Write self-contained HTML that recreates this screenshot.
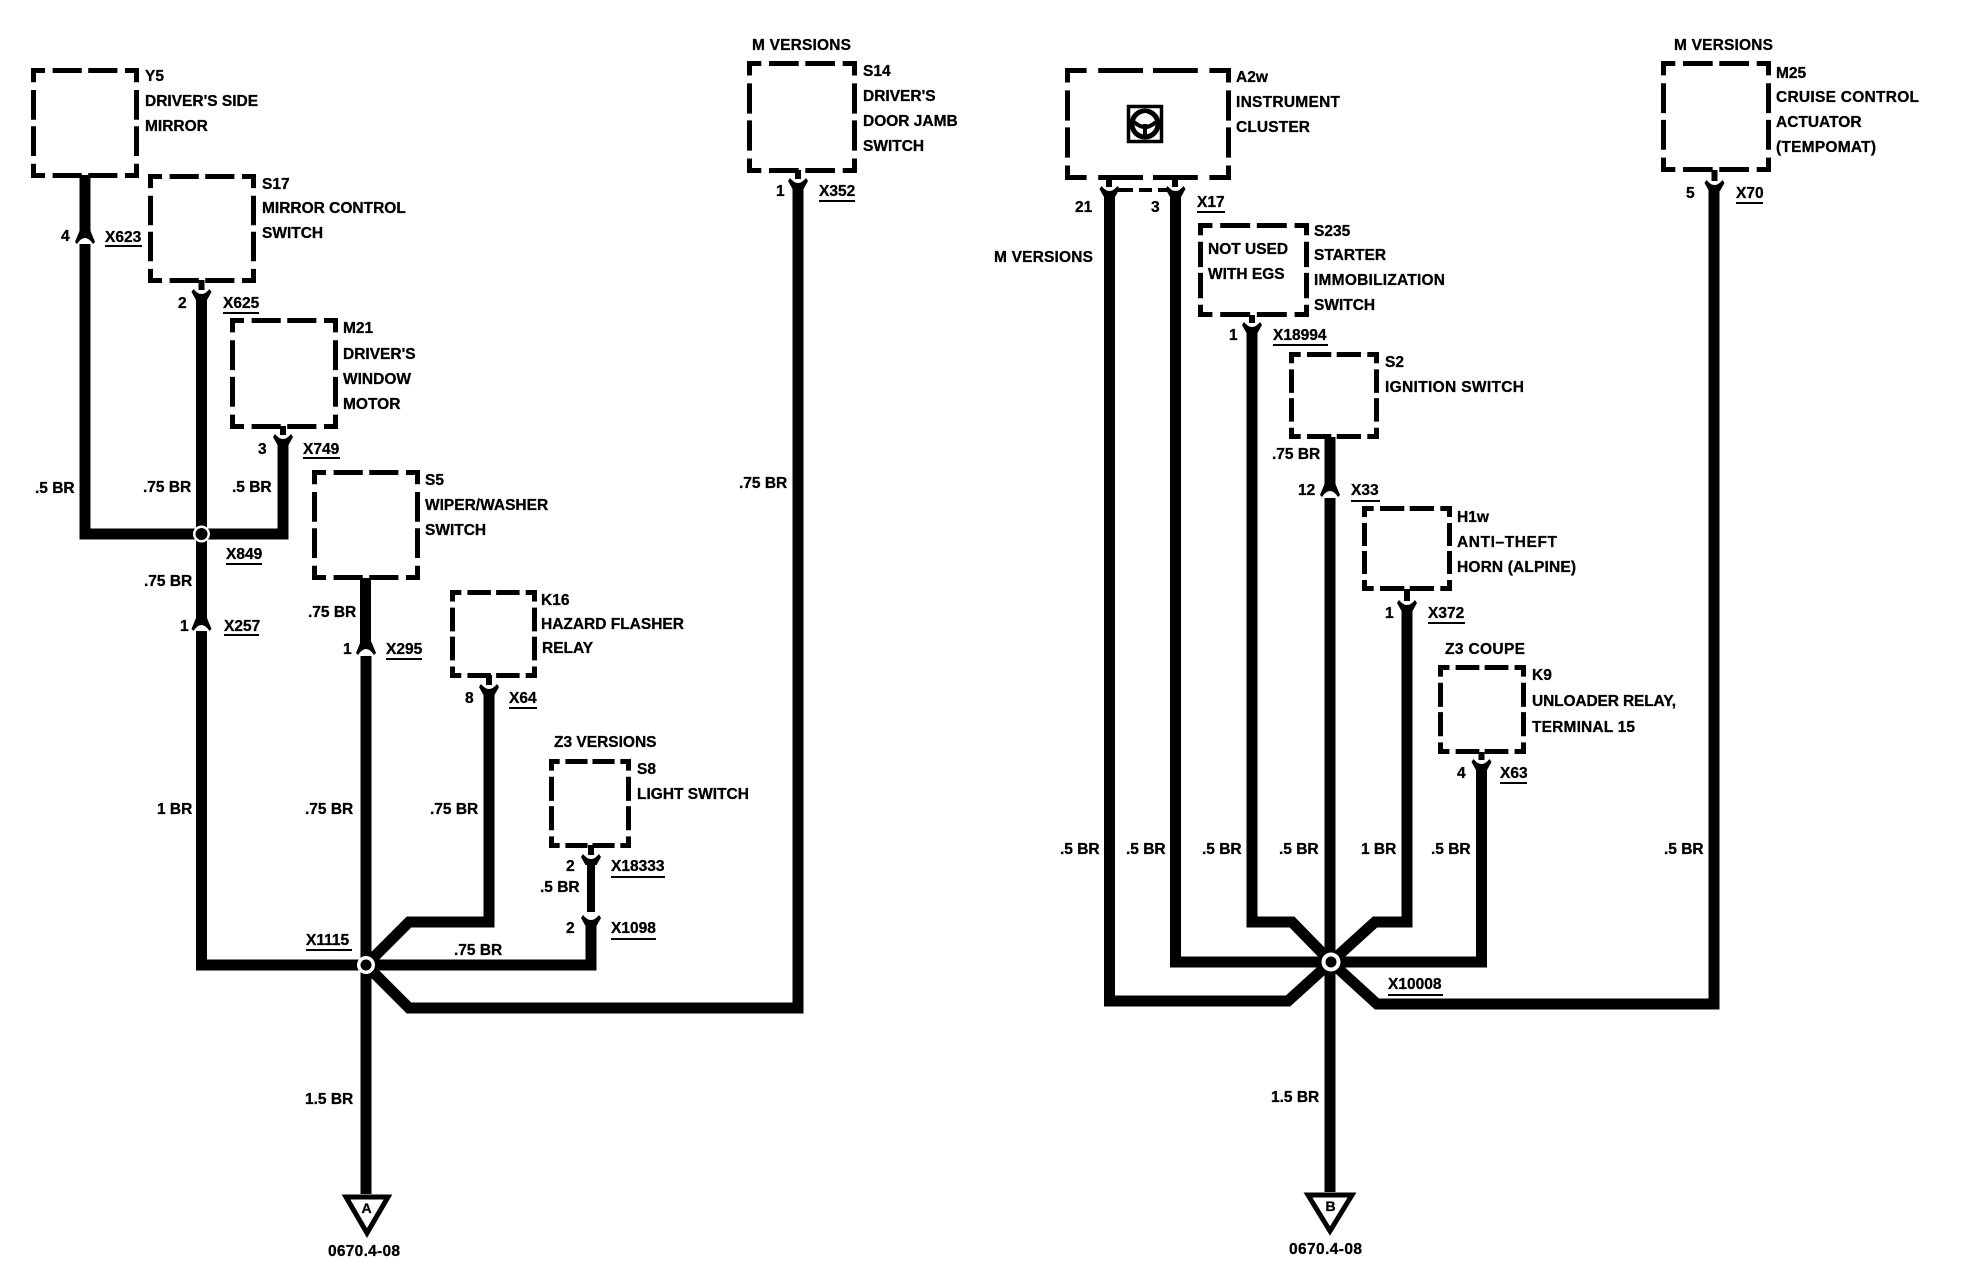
<!DOCTYPE html>
<html><head><meta charset="utf-8"><style>
html,body{margin:0;padding:0;background:#fff}
svg{display:block}
text{font-family:"Liberation Sans",sans-serif;font-weight:bold;font-size:15.5px;fill:#000;stroke:#000;stroke-width:.3}
.w{fill:none;stroke:#000;stroke-width:11;stroke-linejoin:miter;stroke-linecap:butt}
.s{fill:none;stroke:#000;stroke-width:6}
.u{stroke:#000;stroke-width:2;fill:none}
.h,.v{fill:none;stroke:#000;stroke-width:5;stroke-dasharray:13 7 27 6 27 7 13 100}
</style></head><body>
<svg width="1964" height="1280" viewBox="0 0 1964 1280" xmlns="http://www.w3.org/2000/svg">
<defs>
<path id="Y" d="M-8 -2Q0 8 8 -2L10 1L5.500 9H-5.500L-10 1Z"/>
<path id="I" d="M-5.500 -9H5.500L10 2L8 4Q0 -8 -8 4L-10 2Z"/>
</defs>

<!-- boxes -->
<g>
<path class="h" pathLength="200" d="M31 70.5H139M31 175.5H139"/><path class="v" pathLength="200" d="M33.5 68V178M136.5 68V178"/>
<path class="h" pathLength="200" d="M148 176.5H256M148 280.5H256"/><path class="v" pathLength="200" d="M150.5 174V283M253.5 174V283"/>
<path class="h" pathLength="200" d="M230 320.5H338M230 426.5H338"/><path class="v" pathLength="200" d="M232.5 318V429M335.5 318V429"/>
<path class="h" pathLength="200" d="M312 472.5H420M312 577.5H420"/><path class="v" pathLength="200" d="M314.5 470V580M417.5 470V580"/>
<path class="h" pathLength="200" d="M450 592.5H537M450 675.5H537"/><path class="v" pathLength="200" d="M452.5 590V678M534.5 590V678"/>
<path class="h" pathLength="200" d="M549 761.5H631M549 845.5H631"/><path class="v" pathLength="200" d="M551.5 759V848M628.5 759V848"/>
<path class="h" pathLength="200" d="M747 63.5H857M747 170.5H857"/><path class="v" pathLength="200" d="M749.5 61V173M854.5 61V173"/>
<path class="h" pathLength="200" d="M1065 70.5H1231M1065 177.5H1231"/><path class="v" pathLength="200" d="M1067.5 68V180M1228.5 68V180"/>
<path class="h" pathLength="200" d="M1661 63.5H1771M1661 169.5H1771"/><path class="v" pathLength="200" d="M1663.5 61V172M1768.5 61V172"/>
<path class="h" pathLength="200" d="M1198 225.5H1309M1198 314.5H1309"/><path class="v" pathLength="200" d="M1200.5 223V317M1306.5 223V317"/>
<path class="h" pathLength="200" d="M1289 354.5H1379M1289 436.5H1379"/><path class="v" pathLength="200" d="M1291.5 352V439M1376.5 352V439"/>
<path class="h" pathLength="200" d="M1362 508.5H1452M1362 588.5H1452"/><path class="v" pathLength="200" d="M1364.5 506V591M1449.5 506V591"/>
<path class="h" pathLength="200" d="M1438 667.5H1526M1438 751.5H1526"/><path class="v" pathLength="200" d="M1440.5 665V754M1523.5 665V754"/>
</g>

<!-- stems -->
<path class="s" d="M201.5 280V290M283 426V435M489 675V685M591 845V855M798 170V179M1109 178V187M1175 178V187M1252 315V323M1407 589V601M1481.5 752V760M1714.5 170V181"/>
<path d="M1118 190H1133M1139 190H1152M1158 190H1168" stroke="#000" stroke-width="4" fill="none"/>

<!-- left wires -->
<path class="w" d="M85 175V234M85 244V534H283V442"/>
<path class="w" d="M201.5 298V620M201.5 631V965H366"/>
<path class="w" d="M365.5 578V645M366 656V1194"/>
<path class="w" d="M489 694V922H409L366 965"/>
<path class="w" d="M366 965H591V924"/>
<path class="w" d="M366 965L409 1008H798V187"/>
<path d="M591 862V912" stroke="#000" stroke-width="8" fill="none"/>

<!-- right wires -->
<path class="w" d="M1109.500 194V1001H1288L1331 962"/>
<path class="w" d="M1175.500 194V962H1481.5V767"/>
<path class="w" d="M1252 330V922H1292L1331 962"/>
<path class="w" d="M1330 437V487M1330 498V1192"/>
<path class="w" d="M1407 608V922H1375L1331 962"/>
<path class="w" d="M1331 962L1377 1004H1714V188"/>

<!-- connectors -->
<use href="#Y" x="201.5" y="291"/><use href="#Y" x="283" y="436"/><use href="#Y" x="489" y="686"/>
<use href="#Y" x="591" y="856"/><use href="#Y" x="591" y="917"/><use href="#Y" x="798" y="180"/>
<use href="#Y" x="1109.500" y="188"/><use href="#Y" x="1175.500" y="188"/><use href="#Y" x="1252" y="324"/>
<use href="#Y" x="1407" y="602"/><use href="#Y" x="1481.5" y="761"/><use href="#Y" x="1714.5" y="182"/>
<use href="#I" x="85" y="240"/><use href="#I" x="201.5" y="627"/><use href="#I" x="366" y="651"/><use href="#I" x="1330" y="493"/>

<!-- junctions -->
<circle cx="201.5" cy="534" r="8.5" fill="#fff"/><circle cx="201.5" cy="534" r="6" fill="#000"/>
<circle cx="366" cy="965" r="9" fill="#fff"/><circle cx="366" cy="965" r="5.500" fill="#000"/>
<circle cx="1331" cy="962" r="9.500" fill="#fff"/><circle cx="1331" cy="962" r="5.500" fill="#000"/>

<!-- grounds -->
<path d="M346 1197H388L367 1233Z" fill="#fff" stroke="#000" stroke-width="5"/>
<path d="M1308 1195H1352L1330 1231Z" fill="#fff" stroke="#000" stroke-width="5"/>
<text x="361.5" y="1213" style="font-size:14px">A</text>
<text x="1325.5" y="1211" style="font-size:14px">B</text>

<!-- instrument icon -->
<rect x="1128.5" y="106.5" width="33" height="35" fill="#fff" stroke="#000" stroke-width="3.500"/>
<circle cx="1145" cy="124" r="13" fill="none" stroke="#000" stroke-width="5"/>
<circle cx="1145" cy="119" r="6" fill="#fff"/>
<path d="M1145 124V137M1134 122Q1145 132 1156 122" fill="none" stroke="#000" stroke-width="4"/>

<!-- underlines -->
<path class="u" d="M105 246H142M223 313H259M303 458H340M226 564H262M224 635H259M386 659H422M509 708H537M611 877H665M611 939H656M306 950H352M819 201H855M1197 212H1225M1273 345H1328M1351 501H1380M1428 623H1465M1736 203H1763M1500 783H1527M1388 995H1443"/>

<g transform="translate(0,-1)">
<!-- left labels -->
<text x="145" y="82">Y5</text><text x="145" y="107">DRIVER'S SIDE</text><text x="145" y="132">MIRROR</text>
<text x="262" y="190">S17</text><text x="262" y="214">MIRROR CONTROL</text><text x="262" y="239">SWITCH</text>
<text x="343" y="334">M21</text><text x="343" y="360">DRIVER'S</text><text x="343" y="385">WINDOW</text><text x="343" y="410">MOTOR</text>
<text x="425" y="486">S5</text><text x="425" y="511">WIPER/WASHER</text><text x="425" y="536">SWITCH</text>
<text x="541" y="606">K16</text><text x="541" y="630">HAZARD FLASHER</text><text x="542" y="654">RELAY</text>
<text x="554" y="748">Z3 VERSIONS</text><text x="637" y="775">S8</text><text x="637" y="800">LIGHT SWITCH</text>
<text x="752" y="51" textLength="99">M VERSIONS</text><text x="863" y="77">S14</text><text x="863" y="102">DRIVER'S</text><text x="863" y="127">DOOR JAMB</text><text x="863" y="152">SWITCH</text>
<text x="776" y="197">1</text><text x="819" y="197">X352</text><text x="739" y="489">.75 BR</text>
<text x="61" y="242">4</text><text x="105" y="243">X623</text>
<text x="178" y="309">2</text><text x="223" y="309">X625</text>
<text x="258" y="455">3</text><text x="303" y="455">X749</text>
<text x="35" y="494">.5 BR</text><text x="143" y="493">.75 BR</text><text x="232" y="493">.5 BR</text>
<text x="226" y="560">X849</text><text x="144" y="587">.75 BR</text>
<text x="180" y="632">1</text><text x="224" y="632">X257</text><text x="308" y="618">.75 BR</text>
<text x="343" y="655">1</text><text x="386" y="655">X295</text>
<text x="465" y="704">8</text><text x="509" y="704">X64</text>
<text x="157" y="815">1 BR</text><text x="305" y="815">.75 BR</text><text x="430" y="815">.75 BR</text>
<text x="566" y="872">2</text><text x="611" y="872">X18333</text><text x="540" y="893">.5 BR</text>
<text x="566" y="934">2</text><text x="611" y="934">X1098</text>
<text x="306" y="946">X1115</text><text x="454" y="956">.75 BR</text>
<text x="305" y="1105">1.5 BR</text><text x="328" y="1257" textLength="72">0670.4-08</text>

<!-- right labels -->
<text x="1236" y="83">A2w</text><text x="1236" y="108" textLength="104">INSTRUMENT</text><text x="1236" y="133" textLength="74">CLUSTER</text>
<text x="1075" y="213">21</text><text x="1151" y="213">3</text><text x="1197" y="208">X17</text>
<text x="994" y="263" textLength="99">M VERSIONS</text>
<text x="1208" y="255">NOT USED</text><text x="1208" y="280">WITH EGS</text>
<text x="1314" y="237">S235</text><text x="1314" y="261">STARTER</text><text x="1314" y="286" textLength="131">IMMOBILIZATION</text><text x="1314" y="311">SWITCH</text>
<text x="1229" y="341">1</text><text x="1273" y="341">X18994</text>
<text x="1385" y="368">S2</text><text x="1385" y="393" textLength="139">IGNITION SWITCH</text>
<text x="1272" y="460">.75 BR</text>
<text x="1298" y="496">12</text><text x="1351" y="496">X33</text>
<text x="1457" y="523">H1w</text><text x="1457" y="548" textLength="100">ANTI–THEFT</text><text x="1457" y="573" textLength="119">HORN (ALPINE)</text>
<text x="1385" y="619">1</text><text x="1428" y="619">X372</text>
<text x="1674" y="51" textLength="99">M VERSIONS</text><text x="1776" y="79">M25</text><text x="1776" y="103" textLength="143">CRUISE CONTROL</text><text x="1776" y="128">ACTUATOR</text><text x="1776" y="153" textLength="100">(TEMPOMAT)</text>
<text x="1686" y="199">5</text><text x="1736" y="199">X70</text>
<text x="1445" y="655" textLength="80">Z3 COUPE</text><text x="1532" y="681">K9</text><text x="1532" y="707" textLength="144">UNLOADER RELAY,</text><text x="1532" y="733" textLength="103">TERMINAL 15</text>
<text x="1457" y="779">4</text><text x="1500" y="779">X63</text>
<text x="1060" y="855">.5 BR</text><text x="1126" y="855">.5 BR</text><text x="1202" y="855">.5 BR</text><text x="1279" y="855">.5 BR</text><text x="1361" y="855">1 BR</text><text x="1431" y="855">.5 BR</text><text x="1664" y="855">.5 BR</text>
<text x="1388" y="990">X10008</text>
<text x="1271" y="1103">1.5 BR</text><text x="1289" y="1255" textLength="73">0670.4-08</text>
</g>
</svg>
</body></html>
